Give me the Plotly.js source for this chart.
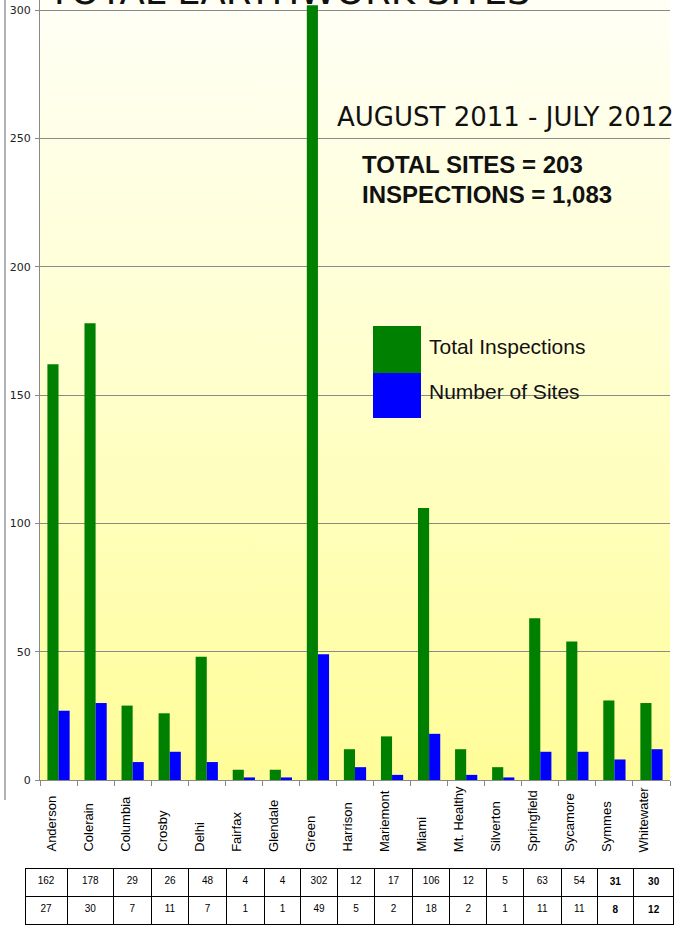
<!DOCTYPE html>
<html>
<head>
<meta charset="utf-8">
<script src="https://cdn.plot.ly/plotly-3.0.1.min.js"></script>
<style>
html,body{margin:0;padding:0;background:#fff;}
#chart{width:691px;height:931px;}
</style>
</head>
<body>
<div id="chart"></div>
<script>
const categories = ["Anderson","Colerain","Columbia","Crosby","Delhi","Fairfax","Glendale","Green","Harrison","Mariemont","Miami","Mt. Healthy","Silverton","Springfield","Sycamore","Symmes","Whitewater"];
const totalInspections = [162,178,29,26,48,4,4,302,12,17,106,12,5,63,54,31,30];
const numberOfSites = [27,30,7,11,7,1,1,49,5,2,18,2,1,11,11,8,12];
const boldColumns = ["Symmes","Whitewater"];
const yTicks = [0,50,100,150,200,250,300];

const W = 691, H = 931;
const px = v => v / W;
const py = v => 1 - v / H;

const fmt = (v, i) => boldColumns.includes(categories[i]) ? "<b>" + v + "</b>" : String(v);

const gradSvg = '<svg xmlns="http://www.w3.org/2000/svg" width="10" height="100" preserveAspectRatio="none">' +
  '<defs><linearGradient id="g" x1="0" y1="0" x2="0" y2="1">' +
  '<stop offset="0" stop-color="#FFFFF6"/><stop offset="0.45" stop-color="#FFFFD0"/><stop offset="1" stop-color="#FFFD98"/>' +
  '</linearGradient></defs><rect width="10" height="100" fill="url(#g)"/></svg>';
const gradUri = "data:image/svg+xml;base64," + btoa(gradSvg);

const traces = [
  {type:"bar", name:"Total Inspections", x:categories, y:totalInspections, marker:{color:"#008000"}, xaxis:"x", yaxis:"y", hoverinfo:"skip"},
  {type:"bar", name:"Number of Sites", x:categories, y:numberOfSites, marker:{color:"#0000FF"}, xaxis:"x", yaxis:"y", hoverinfo:"skip"},
  {type:"table",
   domain:{x:[px(25), px(674)], y:[py(926), py(868)]},
   columnwidth:[95,105,85,85,85,85,83,82,85,85,85,83,83,85,82,82,91],
   header:{values: totalInspections.map((v,i)=>[fmt(v,i)]), height:28, align:"center",
           fill:{color:"#ffffff"}, line:{color:"#000000", width:1},
           font:{family:"Arial, Liberation Sans, sans-serif", size:10, color:"#000"}},
   cells:{values: numberOfSites.map((v,i)=>[fmt(v,i)]), height:28, align:"center",
          fill:{color:"#ffffff"}, line:{color:"#000000", width:1},
          font:{family:"Arial, Liberation Sans, sans-serif", size:10, color:"#000"}}
  }
];

const annotations = [
  {text:"TOTAL EARTHWORK SITES", xref:"paper", yref:"paper", x:px(45), y:1, xanchor:"left", yanchor:"bottom", yshift:-15, showarrow:false,
   font:{family:"DejaVu Sans, sans-serif", size:37, color:"#111"}},
  {text:"AUGUST 2011 - JULY 2012", xref:"paper", yref:"paper", x:px(335), y:py(117), xanchor:"left", yanchor:"middle", showarrow:false,
   font:{family:"DejaVu Sans, sans-serif", size:26, color:"#111"}},
  {text:"<b>TOTAL SITES = 203</b>", xref:"paper", yref:"paper", x:px(360), y:py(164), xanchor:"left", yanchor:"middle", showarrow:false,
   font:{family:"Arial, Liberation Sans, sans-serif", size:24, color:"#111"}},
  {text:"<b>INSPECTIONS = 1,083</b>", xref:"paper", yref:"paper", x:px(360), y:py(194), xanchor:"left", yanchor:"middle", showarrow:false,
   font:{family:"Arial, Liberation Sans, sans-serif", size:24, color:"#111"}},
  {text:traces[0].name, xref:"paper", yref:"paper", x:px(427), y:py(346), xanchor:"left", yanchor:"middle", showarrow:false,
   font:{family:"Arial, Liberation Sans, sans-serif", size:21, color:"#111"}},
  {text:traces[1].name, xref:"paper", yref:"paper", x:px(427), y:py(391), xanchor:"left", yanchor:"middle", showarrow:false,
   font:{family:"Arial, Liberation Sans, sans-serif", size:21, color:"#111"}}
];
categories.forEach(c => {
  annotations.push({text:c, xref:"x", yref:"paper", x:c, y:py(854), xanchor:"center", yanchor:"bottom", xshift:-8,
    textangle:-90, showarrow:false, font:{family:"Arial, Liberation Sans, sans-serif", size:13, color:"#000"}});
});

const layout = {
  width:W, height:H,
  margin:{l:0, r:0, t:0, b:0},
  paper_bgcolor:"#ffffff",
  plot_bgcolor:"rgba(0,0,0,0)",
  showlegend:false,
  barmode:"group",
  bargap:0.4,
  bargroupgap:0,
  xaxis:{domain:[px(40), px(670)], type:"category", showticklabels:false, tickson:"boundaries",
         ticks:"outside", ticklen:5, tickcolor:"#888", showline:true, linecolor:"#888", linewidth:1,
         showgrid:false, zeroline:false, fixedrange:true},
  yaxis:{domain:[py(780), 1], range:[0, 304], tickvals:yTicks, ticks:"outside", ticklen:4, tickcolor:"#888",
         showline:true, linecolor:"#888", linewidth:1, showgrid:true, gridcolor:"#8a8a8a", gridwidth:1,
         zeroline:false, tickfont:{family:"DejaVu Sans, sans-serif", size:11, color:"#222"}, ticklabelstandoff:2, fixedrange:true},
  images:[{source:gradUri, xref:"paper", yref:"paper", x:px(40), y:1, sizex:px(670)-px(40), sizey:1-py(780),
           xanchor:"left", yanchor:"top", sizing:"stretch", layer:"below"}],
  shapes:[
    {type:"line", xref:"paper", yref:"paper", x0:px(5), x1:px(5), y0:1, y1:py(800), line:{color:"#999", width:1.5}},
    {type:"rect", xref:"paper", yref:"paper", x0:px(373), x1:px(421), y0:py(373), y1:py(326), fillcolor:"#008000", line:{width:0}},
    {type:"rect", xref:"paper", yref:"paper", x0:px(373), x1:px(421), y0:py(418), y1:py(373), fillcolor:"#0000FF", line:{width:0}}
  ],
  annotations:annotations
};

Plotly.newPlot("chart", traces, layout, {staticPlot:true, displayModeBar:false});
</script>
</body>
</html>
